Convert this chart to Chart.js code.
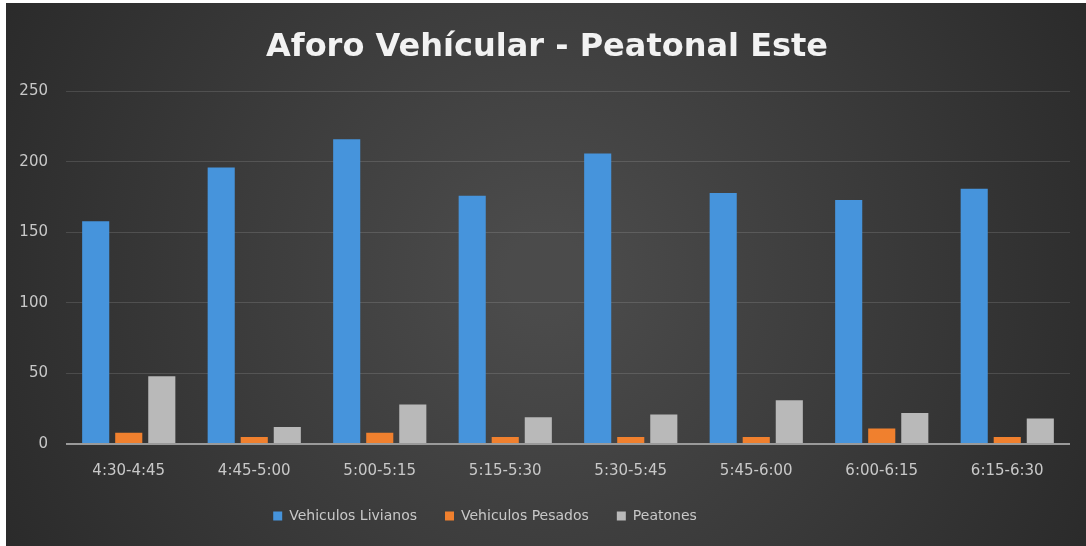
<!DOCTYPE html>
<html>
<head>
<meta charset="utf-8">
<script src="https://cdn.jsdelivr.net/npm/chart.js@4.4.1/dist/chart.umd.min.js"></script>
<style>
  body { margin: 0; background: #fff; }
  #wrap { position: absolute; left: 6px; top: 3px; width: 1080px; height: 543px; }
</style>
</head>
<body>
<div id="wrap"><canvas id="aforoChart"></canvas></div>
<script>
const intervalos = ["4:30-4:45", "4:45-5:00", "5:00-5:15", "5:15-5:30", "5:30-5:45", "5:45-6:00", "6:00-6:15", "6:15-6:30"];
const livianos = [158, 196, 216, 176, 206, 178, 173, 181];
const pesados = [8, 5, 8, 5, 5, 5, 11, 5];
const peatones = [48, 12, 28, 19, 21, 31, 22, 18];
const marcasY = [0, 50, 100, 150, 200, 250];

// fondo oscuro con degradado radial, como en la grafica de Excel
const fondo = {
    id: "fondo",
    beforeDraw(chart) {
        const { ctx, width, height } = chart;
        const g = ctx.createRadialGradient(width / 2, height / 2, 40, width / 2, height / 2, width * 0.62);
        g.addColorStop(0, "#4b4b4b");
        g.addColorStop(1, "#272727");
        ctx.save();
        ctx.fillStyle = g;
        ctx.fillRect(0, 0, width, height);
        ctx.restore();
    }
};

// en el original la leyenda va corrida a la izquierda y el titulo un poco a la derecha
const ajusteCajas = {
    id: "ajusteCajas",
    afterLayout(chart) {
        chart.legend.right -= 106;
        chart.titleBlock.left += 18;
    }
};

const fuente = "DejaVu Sans";
const ctx = document.getElementById("aforoChart").getContext("2d");
new Chart(ctx, {
    type: "bar",
    data: {
        labels: intervalos,
        datasets: [
            { label: "Vehiculos Livianos", data: livianos, backgroundColor: "#4694dc" },
            { label: "Vehiculos Pesados", data: pesados, backgroundColor: "#f0802e" },
            { label: "Peatones", data: peatones, backgroundColor: "#b9b9b9" }
        ]
    },
    options: {
        responsive: true,
        maintainAspectRatio: false,
        animation: false,
        categoryPercentage: 0.79,
        barPercentage: 0.82,
        layout: { padding: { left: 0, right: 16, top: 0, bottom: 13 } },
        plugins: {
            title: {
                display: true,
                text: "Aforo Vehícular - Peatonal Este",
                color: "#f2f2f2",
                font: { family: fuente, size: 32, weight: "bold" },
                padding: { top: 25, bottom: 25 }
            },
            legend: {
                position: "bottom",
                labels: {
                    color: "#c8c8c8",
                    font: { family: fuente, size: 14 },
                    boxWidth: 9,
                    boxHeight: 9,
                    padding: 28
                }
            },
            tooltip: { enabled: false }
        },
        scales: {
            x: {
                grid: { display: false, drawTicks: false },
                border: { display: false },
                afterFit: scale => { scale.height = 37; },
                ticks: { color: "#c8c8c8", font: { family: fuente, size: 15 }, padding: 18 }
            },
            y: {
                min: 0,
                max: 250,
                afterBuildTicks: scale => { scale.ticks = marcasY.map(v => ({ value: v })); },
                afterFit: scale => { scale.width = 60; },
                border: { display: false },
                grid: {
                    drawTicks: false,
                    color: c => c.tick && c.tick.value === 0 ? "#9a9a9a" : "rgba(255,255,255,0.13)",
                    lineWidth: c => c.tick && c.tick.value === 0 ? 2 : 1
                },
                ticks: { color: "#c8c8c8", font: { family: fuente, size: 15 }, padding: 18 }
            }
        }
    },
    plugins: [fondo, ajusteCajas]
});
</script>
</body>
</html>
